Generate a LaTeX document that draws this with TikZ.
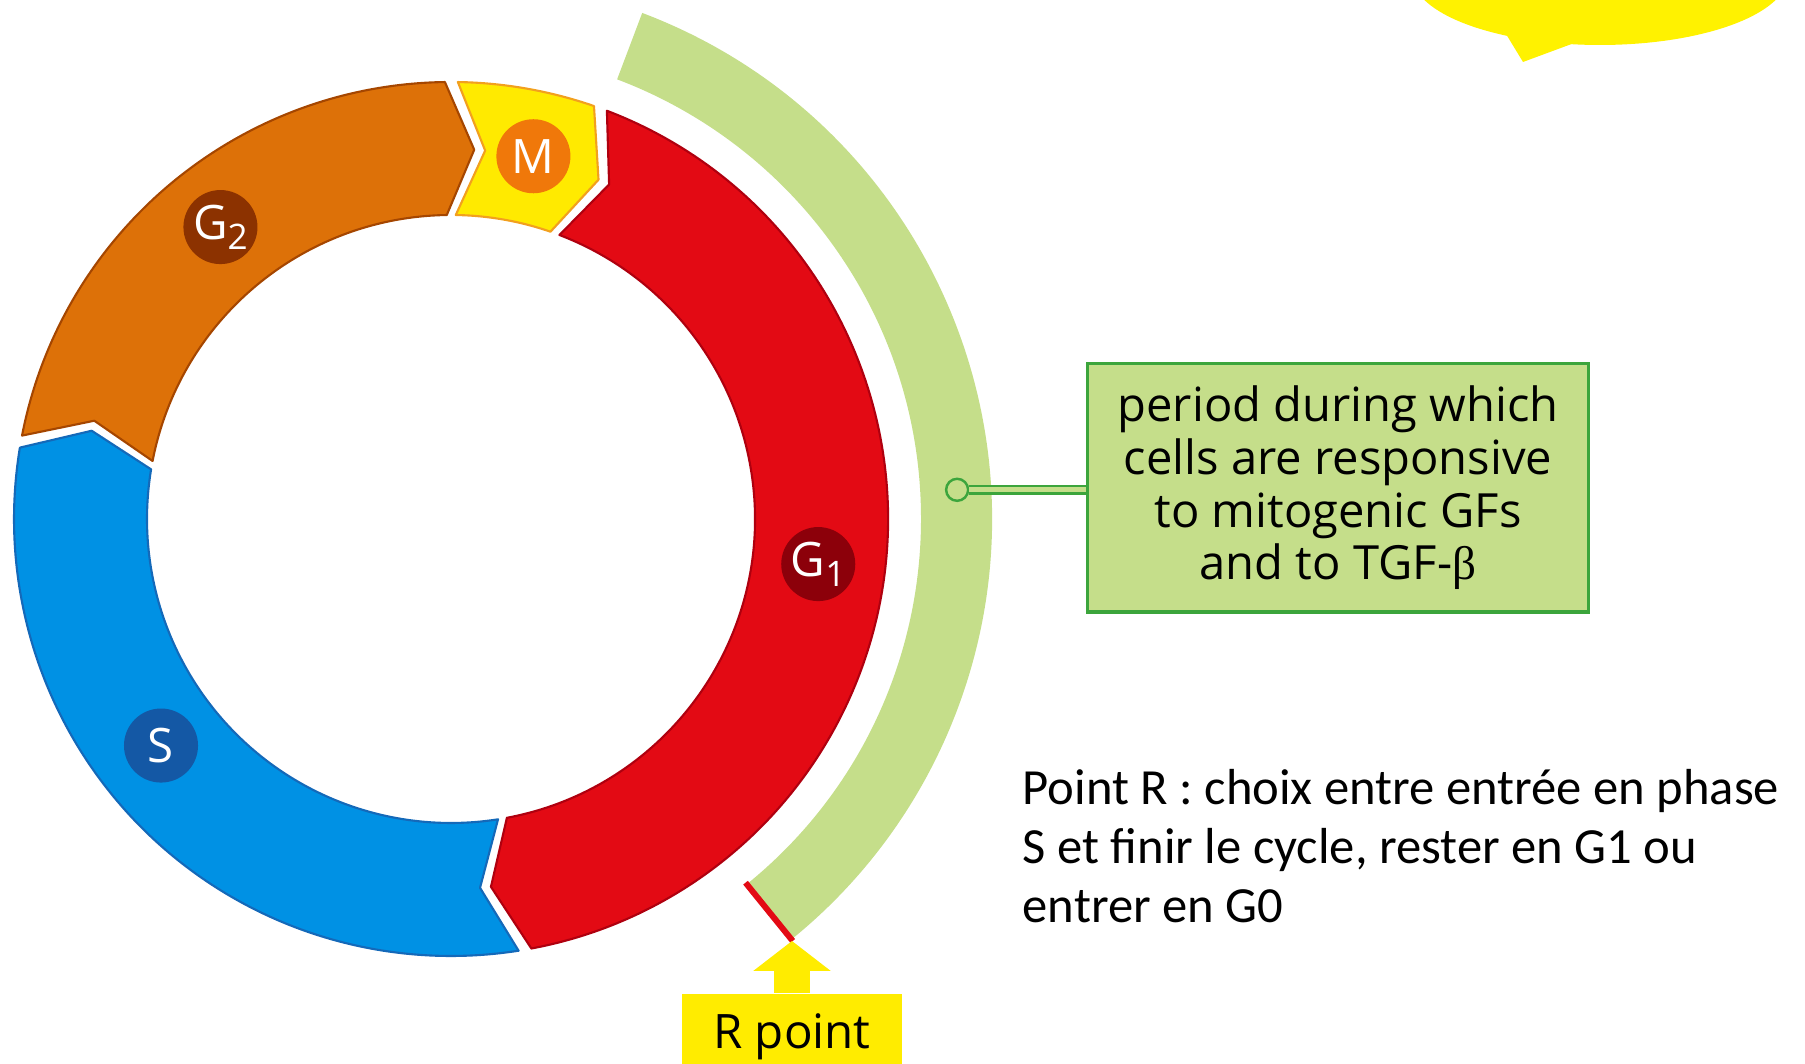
\documentclass[tikz,border=0pt]{standalone}
\usepackage{fontspec}
\setmainfont{Open Sans}
\newfontfamily\calibfont{Carlito}
\newfontfamily\greekfont{Liberation Serif}
\usetikzlibrary{positioning}
\usetikzlibrary{arrows.meta}

\definecolor{gtwo}{RGB}{221,113,8}
\definecolor{gtwoline}{RGB}{165,70,0}
\definecolor{gtwodark}{RGB}{140,50,0}
\definecolor{mphase}{RGB}{255,234,0}
\definecolor{mline}{RGB}{242,160,30}
\definecolor{mdark}{RGB}{240,120,10}
\definecolor{gone}{RGB}{227,10,20}
\definecolor{goneline}{RGB}{175,0,15}
\definecolor{gonedark}{RGB}{140,0,10}
\definecolor{sphase}{RGB}{0,145,228}
\definecolor{sline}{RGB}{20,105,185}
\definecolor{sdark}{RGB}{20,88,165}
\definecolor{respgreen}{RGB}{197,222,138}
\definecolor{boxline}{RGB}{60,165,60}
\definecolor{rpoint}{RGB}{255,236,0}

\newcommand\lowidx[1]{\raisebox{-0.4ex}{\fontsize{10}{10}\selectfont #1}}

\begin{document}
\begin{tikzpicture}[x=0.01cm,y=0.01cm,
    phaseband/.style={line width=0.6pt, line join=round},
    phaselabel/.style={circle, inner sep=0pt, minimum size=0.74cm, text=white,
                       font=\fontsize{13.5}{13.5}\selectfont}
    ]
\useasboundingbox (0,0) rectangle (1805,1064);
\clip (0,0) rectangle (1805,1064);

% callout at the top right
\fill[yellow] (1600,1089) ellipse [x radius=188, y radius=70];
\fill[yellow] (1506,1030) -- (1523,1002) -- (1577,1022) -- cycle;

\begin{scope}[shift={(451,545)}]
  % responsive period
  \fill[respgreen] (-51:470) arc[start angle=-51, end angle=69.3, radius=470]
     -- (69.3:541) arc[start angle=69.3, end angle=-51, radius=541] -- cycle;
  \draw[gone, line width=1.7pt] (-51:468) -- (-51:543);
  \coordinate (rmark) at (-51:543);

  % phases, clockwise, with arrow shaped ends
  \foreach \a/\b/\c/\d in {89.1/70.9/mphase/mline, 69.1/-79.4/gone/goneline,
                           -81.1/-189.4/sphase/sline, 169/90.8/gtwo/gtwoline}
    \filldraw[phaseband, fill=\c, draw=\d] (\a:437) arc[start angle=\a, end angle=\b, radius=437]
      -- ({\b-4.4}:370) -- (\b:304) arc[start angle=\b, end angle=\a, radius=304]
      -- ({\a-4.4}:370) -- cycle;

  \node[phaselabel, fill=mdark] (m) at (77.2:372) {M};
  \node[phaselabel, fill=gonedark] (g1) at (-7:370) {G\lowidx{1}};
  \node[phaselabel, fill=sdark] (s) at (-142:368) {S};
  \node[phaselabel, fill=gtwodark] (g2) at (128.3:372) {G\lowidx{2}};

  \node[circle, draw=boxline, fill=respgreen, line width=0.7pt, minimum size=0.22cm,
        inner sep=0pt] (dot) at (3.3:507) {};
\end{scope}

\node[draw=boxline, fill=respgreen, line width=0.9pt, minimum width=5cm, minimum height=2.48cm,
      align=center, font=\fontsize{13.4}{15}\selectfont] (resp) at (1338,576)
      {period during which\\cells are responsive\\to mitogenic GFs\\and to TGF-{\greekfont β}};
\draw[boxline, line width=0.7pt, double=respgreen, double distance=1.5pt] (dot) -- (dot -| resp.west);

% restriction point
\node[fill=rpoint, anchor=north, minimum width=2.2cm, inner ysep=0pt, text height=0.55cm,
      text depth=0.4cm, font=\fontsize{13.5}{13.5}\selectfont] (rbox) at (792,71) {R point};
\draw[rpoint, line width=0.35cm, -{Triangle[width=0.76cm, length=0.3cm]}]
  (rbox.north) -- (rbox.north |- rmark);

\node[anchor=base west, align=left, inner sep=0pt, font=\calibfont\fontsize{14.4}{16.9}\selectfont]
  (note) at (1022,141) {Point R : choix entre entrée en phase\\S et finir le cycle, rester en G1 ou\\entrer en G0};
\end{tikzpicture}
\end{document}
